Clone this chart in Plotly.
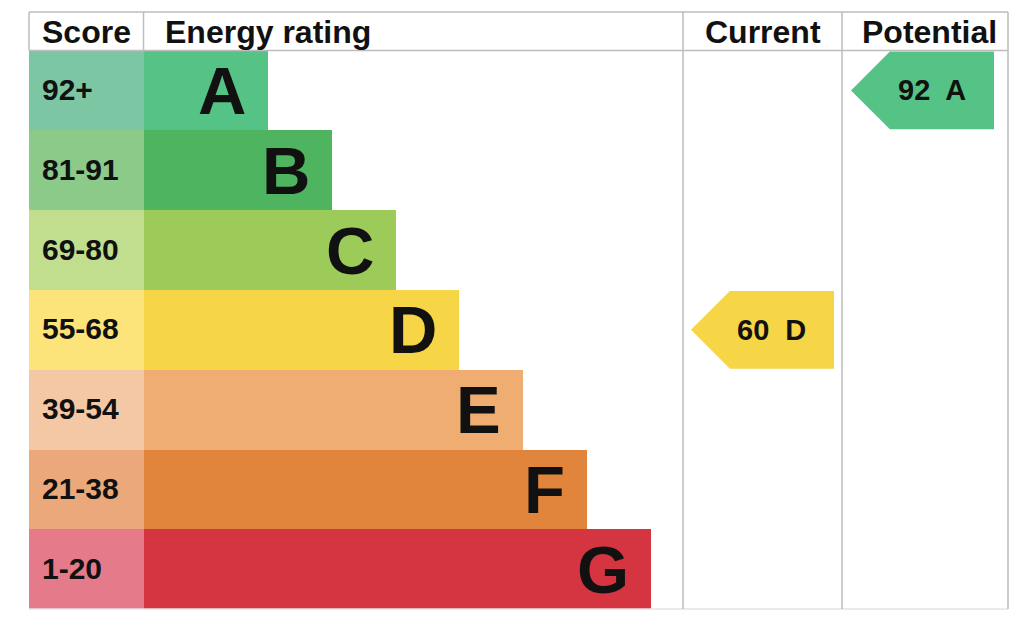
import plotly.graph_objects as go

# EPC data
bands = ["A", "B", "C", "D", "E", "F", "G"]
score_ranges = ["92+", "81-91", "69-80", "55-68", "39-54", "21-38", "1-20"]
bar_colors = ["#55C386", "#4FB45F", "#9CCB5A", "#F6D547", "#EFAD71", "#E0853B", "#D53441"]
score_colors = ["#7DC6A4", "#8BCA89", "#C1DE8F", "#FCE47B", "#F4C8A4", "#EBA97B", "#E57A8B"]
headers = ["Score", "Energy rating", "Current", "Potential"]
current_score, current_band = 60, "D"
potential_score, potential_band = 92, "A"

# layout in pixel units (page body has an 8px margin)
W, H = 1024, 633
off = 8
left, right = 29, 1008
top, head_bot = 12, 50.5
row_h = 79.8
score_right = 143.5
col_cur, col_pot = 683, 842
bar_step = 63.8
font = "Liberation Sans, Arial, Helvetica, sans-serif"


def row_center(i):
    return head_bot + row_h * (i + 0.5)


fig = go.Figure()

# score column
fig.add_trace(go.Bar(
    y=[row_center(i) for i in range(len(bands))],
    x=[score_right - left] * len(bands),
    base=left, orientation="h", width=row_h,
    marker=dict(color=score_colors, line=dict(width=0)),
    hoverinfo="skip", showlegend=False,
))
# rating bars
fig.add_trace(go.Bar(
    y=[row_center(i) for i in range(len(bands))],
    x=[124.5 + bar_step * i for i in range(len(bands))],
    base=score_right, orientation="h", width=row_h,
    marker=dict(color=bar_colors, line=dict(width=0)),
    hoverinfo="skip", showlegend=False,
))

annotations = []
for i, (b, s) in enumerate(zip(bands, score_ranges)):
    annotations.append(dict(x=score_right + 124.5 + bar_step * i - 20, y=row_center(i),
                            text="<b>%s</b>" % b, showarrow=False, xanchor="right",
                            font=dict(size=67, color="#111111", family=font)))
    annotations.append(dict(x=40, y=row_center(i) - 1, text="<b>%s</b>" % s, showarrow=False,
                            xanchor="left", font=dict(size=30, color="#111111", family=font)))

# headers
header_x = [40, 163, 762.5, 929.5]
header_anchor = ["left", "left", "center", "center"]
for h, hx, ha in zip(headers, header_x, header_anchor):
    annotations.append(dict(x=hx, y=(top + head_bot) / 2 + 1, text="<b>%s</b>" % h,
                            showarrow=False, xanchor=ha,
                            font=dict(size=32, color="#111111", family=font)))


# arrows for current / potential
def add_arrow(score, band, x0, x1):
    i = bands.index(band)
    yc = row_center(i)
    half = row_h / 2 - 1
    xs = [x0, x0 + half, x1, x1, x0 + half, x0]
    ys = [yc, yc - half, yc - half, yc + half, yc + half, yc]
    fig.add_trace(go.Scatter(x=xs, y=ys, fill="toself", mode="lines",
                             fillcolor=bar_colors[i], line=dict(width=0),
                             hoverinfo="skip", showlegend=False))
    annotations.append(dict(x=(x0 + half + x1) / 2 - 10, y=yc, text="<b>%d  %s</b>" % (score, band),
                            showarrow=False, font=dict(size=29, color="#111111", family=font)))


add_arrow(current_score, current_band, 691, 834)
add_arrow(potential_score, potential_band, 851, 994)

# grid lines
bottom = head_bot + row_h * len(bands)
line = dict(color="#BDBDBD", width=1.5)
shapes = [
    dict(type="line", x0=left, x1=right, y0=top, y1=top, line=line),
    dict(type="line", x0=left, x1=right, y0=head_bot, y1=head_bot, line=line),
    dict(type="line", x0=left, x1=right, y0=bottom, y1=bottom, line=dict(color="#E4E4E4", width=1.5)),
    dict(type="line", x0=left, x1=left, y0=top, y1=head_bot, line=line),
    dict(type="line", x0=score_right, x1=score_right, y0=top, y1=head_bot, line=line),
    dict(type="line", x0=col_cur, x1=col_cur, y0=top, y1=bottom, line=line),
    dict(type="line", x0=col_pot, x1=col_pot, y0=top, y1=bottom, line=line),
    dict(type="line", x0=right, x1=right, y0=top, y1=bottom, line=line),
]

fig.update_layout(
    width=W, height=H, margin=dict(l=0, r=0, t=0, b=0),
    paper_bgcolor="white", plot_bgcolor="white",
    barmode="overlay", bargap=0,
    xaxis=dict(range=[off, W + off], visible=False, fixedrange=True),
    yaxis=dict(range=[H + off, off], visible=False, fixedrange=True),
    shapes=shapes, annotations=annotations,
)
fig.write_html("out.html")
